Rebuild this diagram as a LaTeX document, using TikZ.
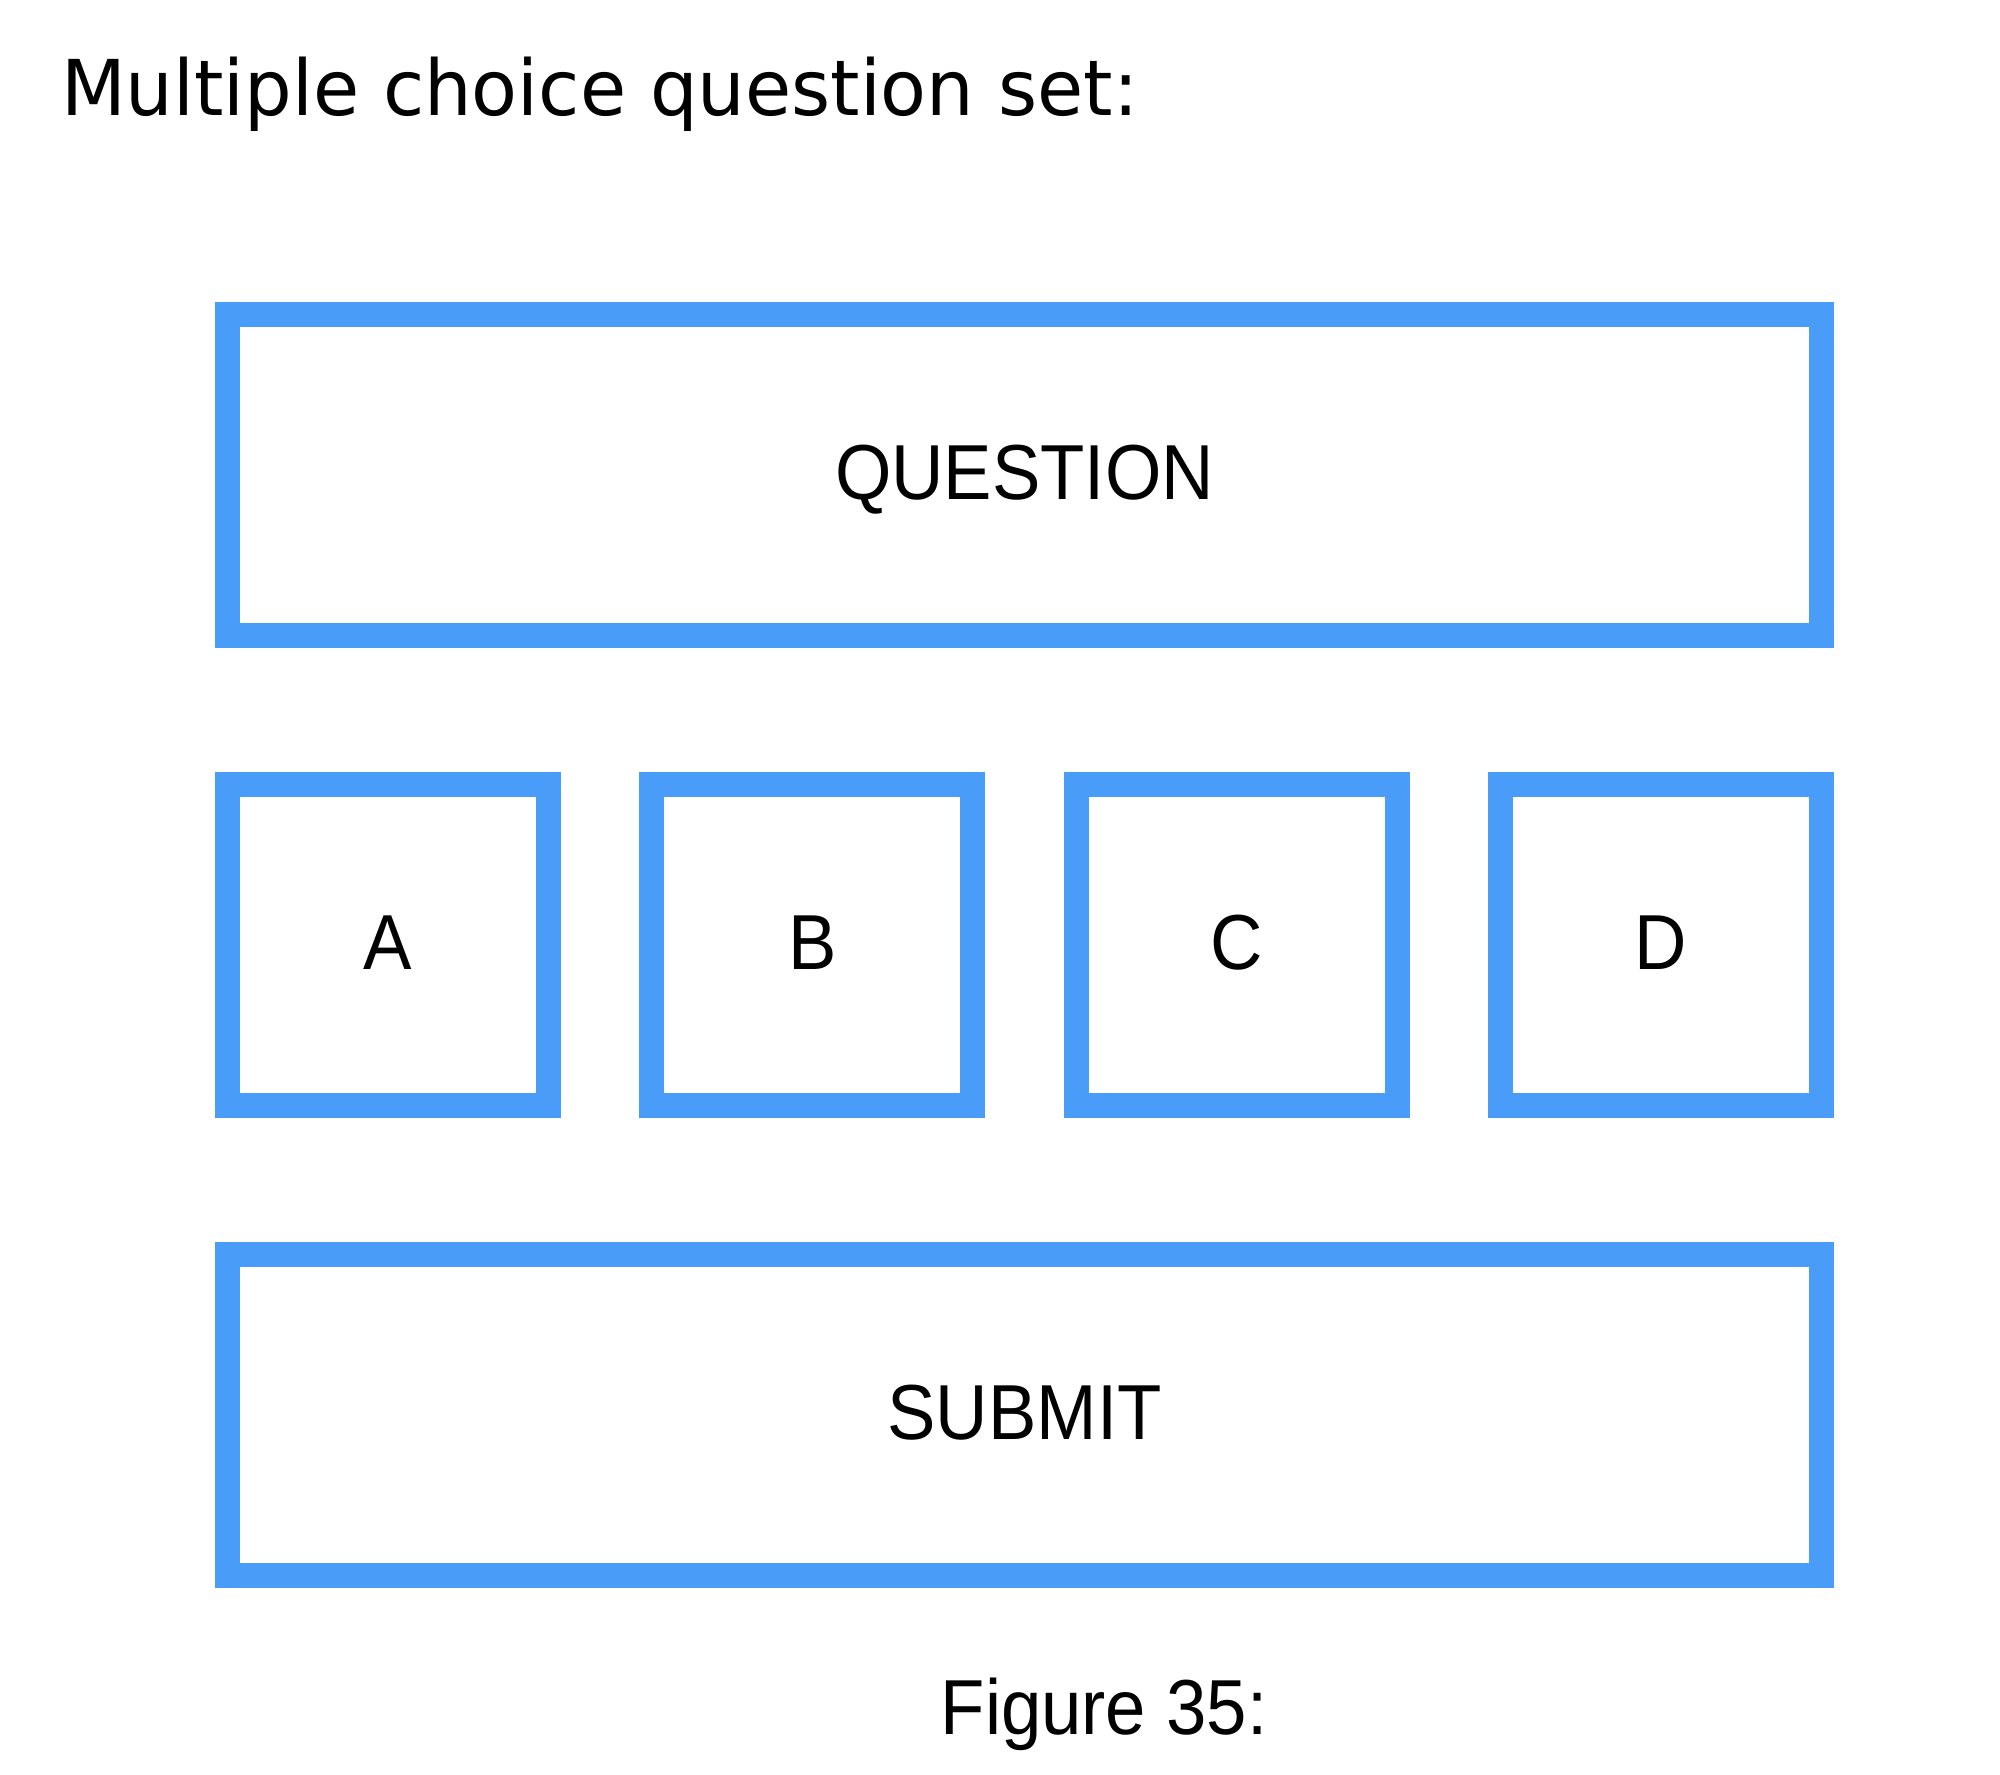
\documentclass[tikz,border=0pt]{standalone}
\usepackage{fontspec}
\newfontfamily\titlefont[FakeStretch=0.975]{DejaVu Sans}
\newfontfamily\helvfont[FakeStretch=0.93]{Liberation Sans}
\definecolor{boxblue}{RGB}{73,156,248}
\tikzset{
  optbox/.style={draw=boxblue, line width=25pt, rectangle, inner sep=0pt, outer sep=0pt,
    minimum width=321pt, minimum height=321pt,
    font=\helvfont\fontsize{78}{80}\selectfont, text height=56pt, text depth=8pt},
  widebox/.style={optbox, minimum width=1594pt},
  plaintext/.style={inner sep=0pt, outer sep=0pt, anchor=base}
}
\begin{document}
\begin{tikzpicture}[x=1pt,y=-1pt]
\useasboundingbox (0,0) rectangle (2000,1775);
\node[plaintext, anchor=base west, font=\titlefont\fontsize{77}{80}\selectfont] (title) at (61,115) {Multiple choice question set:};
\node[widebox] (q) at (1024.5,475) {QUESTION};
\node[optbox] (a) at (388,945) {A};
\node[optbox] (b) at (812.3,945) {B};
\node[optbox] (c) at (1236.7,945) {C};
\node[optbox] (d) at (1661,945) {D};
\node[widebox] (s) at (1024.5,1415) {SUBMIT};
\node[plaintext, font=\helvfont\fontsize{78}{80}\selectfont] (fig) at (1104,1734) {Figure 35:};
\end{tikzpicture}
\end{document}
